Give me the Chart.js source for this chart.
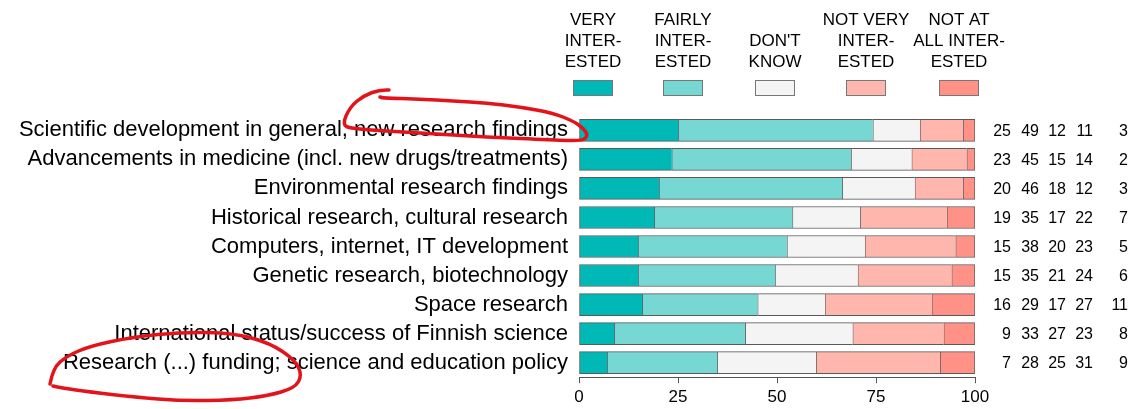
<!DOCTYPE html>
<html>
<head>
<meta charset="utf-8">
<script src="https://cdn.jsdelivr.net/npm/chart.js@4.4.1/dist/chart.umd.min.js"></script>
<style>
  html, body { margin: 0; padding: 0; background: #fff; }
</style>
</head>
<body>
<canvas id="myChart" width="1148" height="409"></canvas>
<script>
// categories (top to bottom)
var categories = [
    'Scientific development in general, new research findings',
    'Advancements in medicine (incl. new drugs/treatments)',
    'Environmental research findings',
    'Historical research, cultural research',
    'Computers, internet, IT development',
    'Genetic research, biotechnology',
    'Space research',
    'International status/success of Finnish science',
    'Research (...) funding; science and education policy'
];

// shares in %
var veryInterested    = [25.1, 23.4, 20.2, 19.0, 14.9, 14.9, 16.0,  8.9,  7.1];
var fairlyInterested  = [49.1, 45.3, 46.3, 34.9, 37.6, 34.6, 29.1, 33.1, 27.8];
var dontKnow          = [11.9, 15.3, 18.3, 17.1, 19.7, 20.9, 17.0, 27.1, 25.0];
var notVeryInterested = [10.9, 13.9, 12.2, 21.9, 22.9, 23.7, 27.0, 23.0, 31.3];
var notAtAllInterested = [3.0,  2.1,  3.0,  7.1,  4.9,  5.9, 10.9,  7.9,  8.8];

// legend labels, one line per entry
var seriesLabels = [
    ['VERY', 'INTER-', 'ESTED'],
    ['FAIRLY', 'INTER-', 'ESTED'],
    ["DON'T", 'KNOW'],
    ['NOT VERY', 'INTER-', 'ESTED'],
    ['NOT AT', 'ALL INTER-', 'ESTED']
];
var seriesValues = [veryInterested, fairlyInterested, dontKnow, notVeryInterested, notAtAllInterested];
var seriesColors = ['#00b9b7', '#76d7d3', '#f4f4f4', '#ffb6ac', '#ff9186'];

var xTicks = [0, 25, 50, 75, 100];

var FONT = '"Liberation Sans", Arial, sans-serif';
Chart.defaults.font.family = FONT;
Chart.defaults.color = '#000';

// legend on top, drawn by hand
var legendPlugin = {
    id: 'topLegend',
    afterDraw: function(chart) {
        var ctx = chart.ctx;
        var centers = [593, 683, 775, 866, 959];
        var baselines = [25, 46, 67];
        ctx.save();
        ctx.font = '17px ' + FONT;
        ctx.fillStyle = '#000';
        ctx.textAlign = 'center';
        ctx.textBaseline = 'alphabetic';
        chart.data.datasets.forEach(function(ds, i) {
            var lines = seriesLabels[i];
            var off = 3 - lines.length;
            lines.forEach(function(line, k) {
                ctx.fillText(line, centers[i], baselines[k + off]);
            });
            ctx.fillStyle = ds.backgroundColor;
            ctx.fillRect(centers[i] - 20, 80, 40, 16);
            ctx.strokeStyle = '#777';
            ctx.lineWidth = 1;
            ctx.strokeRect(centers[i] - 19.5, 80.5, 39, 15);
            ctx.fillStyle = '#000';
        });
        ctx.restore();
    }
};

// rounded numbers to the right of each bar
var valuesPlugin = {
    id: 'rowValues',
    afterDraw: function(chart) {
        var ctx = chart.ctx;
        var yScale = chart.scales.y;
        var colRight = [1011, 1039, 1066, 1093, 1128];
        ctx.save();
        ctx.font = '16px ' + FONT;
        ctx.fillStyle = '#000';
        ctx.textAlign = 'right';
        ctx.textBaseline = 'middle';
        chart.data.datasets.forEach(function(ds, i) {
            ds.data.forEach(function(v, j) {
                ctx.fillText(String(Math.round(v)), colRight[i], yScale.getPixelForValue(j) + 1);
            });
        });
        ctx.restore();
    }
};

// hand-drawn red marks on the picture
function smoothStroke(ctx, pts) {
    ctx.beginPath();
    ctx.moveTo(pts[0][0], pts[0][1]);
    for (var i = 1; i < pts.length - 1; i++) {
        var mx = (pts[i][0] + pts[i + 1][0]) / 2;
        var my = (pts[i][1] + pts[i + 1][1]) / 2;
        ctx.quadraticCurveTo(pts[i][0], pts[i][1], mx, my);
    }
    var last = pts[pts.length - 1];
    ctx.lineTo(last[0], last[1]);
    ctx.stroke();
}

var scribblePlugin = {
    id: 'scribbles',
    afterDraw: function(chart) {
        var ctx = chart.ctx;
        ctx.save();
        ctx.strokeStyle = '#e3131b';
        ctx.lineWidth = 3.5;
        ctx.lineCap = 'round';
        ctx.lineJoin = 'round';
        smoothStroke(ctx, [
            [389, 90], [380, 89.5], [363, 96], [350, 107], [342, 125],
            [353, 129], [420, 133], [487, 137], [553, 140], [583, 141],
            [588, 135], [583, 128], [573, 121], [553, 113], [520, 107],
            [487, 103], [453, 101], [420, 99], [383, 98], [380, 97]
        ]);
        smoothStroke(ctx, [
            [50, 384], [53, 368], [67, 356], [90, 346], [133, 337],
            [183, 332], [233, 333], [270, 343], [295, 360], [302, 375],
            [295, 388], [267, 396], [233, 400], [183, 401], [133, 397],
            [90, 392], [62, 388], [53, 386]
        ]);
        ctx.restore();
    }
};

var datasets = seriesValues.map(function(vals, i) {
    return {
        label: seriesLabels[i].join(' '),
        data: vals,
        backgroundColor: seriesColors[i],
        borderColor: '#5a5a5a',
        borderWidth: {top: 1, bottom: 1, left: 1, right: i === seriesValues.length - 1 ? 1 : 0},
        borderSkipped: false,
        barThickness: 22
    };
});

var ctx = document.getElementById('myChart');
var myChart = new Chart(ctx, {
    type: 'bar',
    data: {
        labels: categories,
        datasets: datasets
    },
    options: {
        indexAxis: 'y',
        responsive: false,
        animation: false,
        layout: {
            padding: {top: 115.8, right: 173, bottom: 0, left: 0}
        },
        plugins: {
            legend: {display: false},
            tooltip: {enabled: false}
        },
        scales: {
            x: {
                stacked: true,
                min: 0,
                max: 100,
                afterBuildTicks: function(scale) {
                    scale.ticks = xTicks.map(function(v) { return {value: v}; });
                },
                afterFit: function(scale) {
                    scale.height = 31.8;
                },
                grid: {drawOnChartArea: false, drawTicks: true, tickLength: 6, color: '#555'},
                border: {display: true, color: '#555'},
                ticks: {font: {size: 17}, color: '#000', padding: 4, maxRotation: 0}
            },
            y: {
                stacked: true,
                grid: {display: false, drawTicks: false},
                border: {display: false},
                ticks: {font: {size: 22}, color: '#000', padding: 11, autoSkip: false},
                afterFit: function(scale) {
                    scale.width = 579;
                }
            }
        }
    },
    plugins: [legendPlugin, valuesPlugin, scribblePlugin]
});
</script>
</body>
</html>
